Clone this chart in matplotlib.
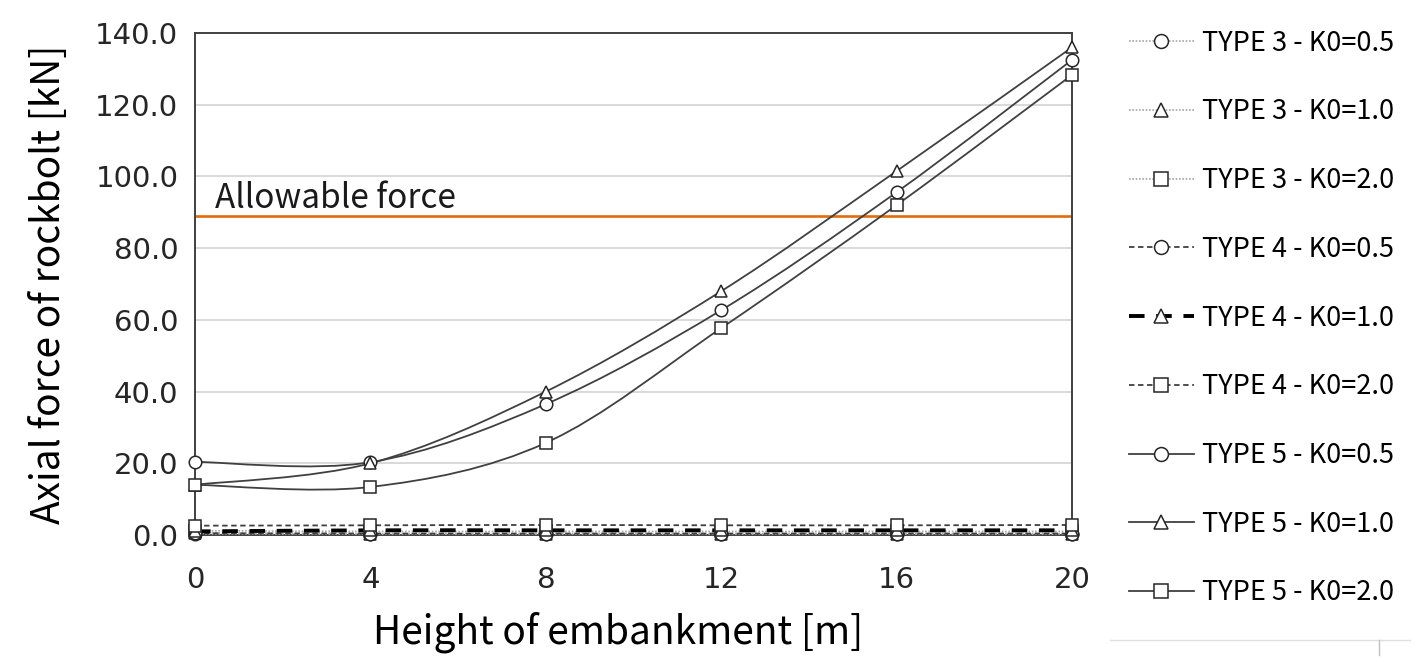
import numpy as np
import matplotlib
matplotlib.use('Agg')
import matplotlib.pyplot as plt
from matplotlib.path import Path
from matplotlib.patches import PathPatch
from matplotlib.lines import Line2D

# Dados
heights = [0, 4, 8, 12, 16, 20]
type3_k05 = [0.3, 0.2, 0.2, 0.2, 0.2, 0.2]
type3_k10 = [0.6, 0.4, 0.4, 0.4, 0.4, 0.4]
type3_k20 = [1.2, 1.0, 1.0, 1.0, 1.0, 1.0]
type4_k05 = [0.5, 0.4, 0.4, 0.4, 0.4, 0.4]
type4_k10 = [1.0, 1.3, 1.3, 1.3, 1.3, 1.3]
type4_k20 = [2.6, 2.7, 2.8, 2.7, 2.7, 2.8]
type5_k05 = [20.4, 20.3, 36.5, 62.7, 95.6, 132.5]
type5_k10 = [14.0, 20.0, 40.0, 68.0, 101.5, 136.0]
type5_k20 = [14.0, 13.4, 25.7, 57.7, 92.0, 128.3]
allowable_force = 89.0

labels = ['TYPE 3 - K0=0.5', 'TYPE 3 - K0=1.0', 'TYPE 3 - K0=2.0',
          'TYPE 4 - K0=0.5', 'TYPE 4 - K0=1.0', 'TYPE 4 - K0=2.0',
          'TYPE 5 - K0=0.5', 'TYPE 5 - K0=1.0', 'TYPE 5 - K0=2.0']
series = [type3_k05, type3_k10, type3_k20,
          type4_k05, type4_k10, type4_k20,
          type5_k05, type5_k10, type5_k20]

# estilo de cada série: (cor linha, largura, estilo, marcador)
styles = [
    ('#a6a6a6', 1.2, (0, (1, 1)), 'o'),
    ('#a6a6a6', 1.2, (0, (1, 1)), '^'),
    ('#a6a6a6', 1.2, (0, (1, 1)), 's'),
    ('#404040', 1.3, (0, (3, 2)), 'o'),
    ('#000000', 2.8, (0, (4, 3)), '^'),
    ('#404040', 1.3, (0, (3, 2)), 's'),
    ('#404040', 1.3, '-', 'o'),
    ('#404040', 1.3, '-', '^'),
    ('#404040', 1.3, '-', 's'),
]

tick_font = ['Liberation Sans Narrow', 'DejaVu Sans']
label_font = ['Noto Sans CJK KR', 'DejaVu Sans']


def smooth_path(x, y):
    # curva suave tipo Excel (Catmull-Rom -> Bezier)
    x = np.asarray(x, float)
    y = np.asarray(y, float)
    px = np.concatenate([[x[0]], x, [x[-1]]])
    py = np.concatenate([[y[0]], y, [y[-1]]])
    verts = [(x[0], y[0])]
    codes = [Path.MOVETO]
    for i in range(1, len(x)):
        c1 = (px[i] + (px[i + 1] - px[i - 1]) / 6, py[i] + (py[i + 1] - py[i - 1]) / 6)
        c2 = (px[i + 1] - (px[i + 2] - px[i]) / 6, py[i + 1] - (py[i + 2] - py[i]) / 6)
        verts += [c1, c2, (x[i], y[i])]
        codes += [Path.CURVE4] * 3
    return Path(verts, codes)


fig = plt.figure(figsize=(14.27, 6.70), dpi=100)
ax = fig.add_axes([0.1367, 0.2015, 0.6145, 0.7492])

handles = []
for vals, (cor, lw, ls, mk), lab in zip(series, styles, labels):
    patch = PathPatch(smooth_path(heights, vals), facecolor='none', edgecolor=cor,
                      linewidth=lw, linestyle=ls, zorder=3)
    ax.add_patch(patch)
    ax.plot(heights, vals, linestyle='none', marker=mk, markersize=9,
            markerfacecolor='white', markeredgecolor='#262626', markeredgewidth=1.1,
            clip_on=False, zorder=4)
    handles.append(Line2D([0], [0], color=cor, linewidth=lw, linestyle=ls, marker=mk,
                          markersize=10, markerfacecolor='white',
                          markeredgecolor='#262626', markeredgewidth=1.1))

# Linha da força admissível
ax.axhline(allowable_force, color='#e26b0a', linewidth=1.9, zorder=2)
ax.text(0.45, allowable_force, 'Allowable force', fontsize=24, family=label_font,
        color='#1a1a1a', ha='left', va='bottom')

ax.set_xlim(0, 20)
ax.set_ylim(0, 140)
ax.set_xticks(heights)
ax.set_yticks(np.arange(0, 141, 20))
ax.set_yticklabels([f'{v:.1f}' for v in np.arange(0, 141, 20)])
ax.tick_params(axis='both', length=0, labelsize=21, colors='#262626')
ax.tick_params(axis='x', pad=22)
ax.tick_params(axis='y', pad=12)
for t in ax.get_xticklabels() + ax.get_yticklabels():
    t.set_family(tick_font)
ax.grid(True, axis='y', color='#d9d9d9', linewidth=1.4)
ax.set_axisbelow(True)
for s in ax.spines.values():
    s.set_color('#404040')
    s.set_linewidth(1.4)

ax.set_xlabel('Height of embankment [m]', fontsize=28, family=label_font)
ax.xaxis.set_label_coords(0.482, -0.152)
ax.set_ylabel('Axial force of rockbolt [kN]', fontsize=28, family=label_font, labelpad=19)

leg = fig.legend(handles, labels, loc='upper left', bbox_to_anchor=(0.774, 0.992),
                 frameon=False, handlelength=2.4, handletextpad=0.3, labelspacing=1.54,
                 numpoints=1, prop={'family': label_font, 'size': 19.5})

# contorno residual do quadro da legenda
fig.add_artist(Line2D([0.778, 0.988], [0.045, 0.045], color='#e0e0e0', linewidth=1))
fig.add_artist(Line2D([0.9665, 0.9665], [0.045, 0.022], color='#c0c0c0', linewidth=1))

fig.savefig('out.png', dpi=100)
